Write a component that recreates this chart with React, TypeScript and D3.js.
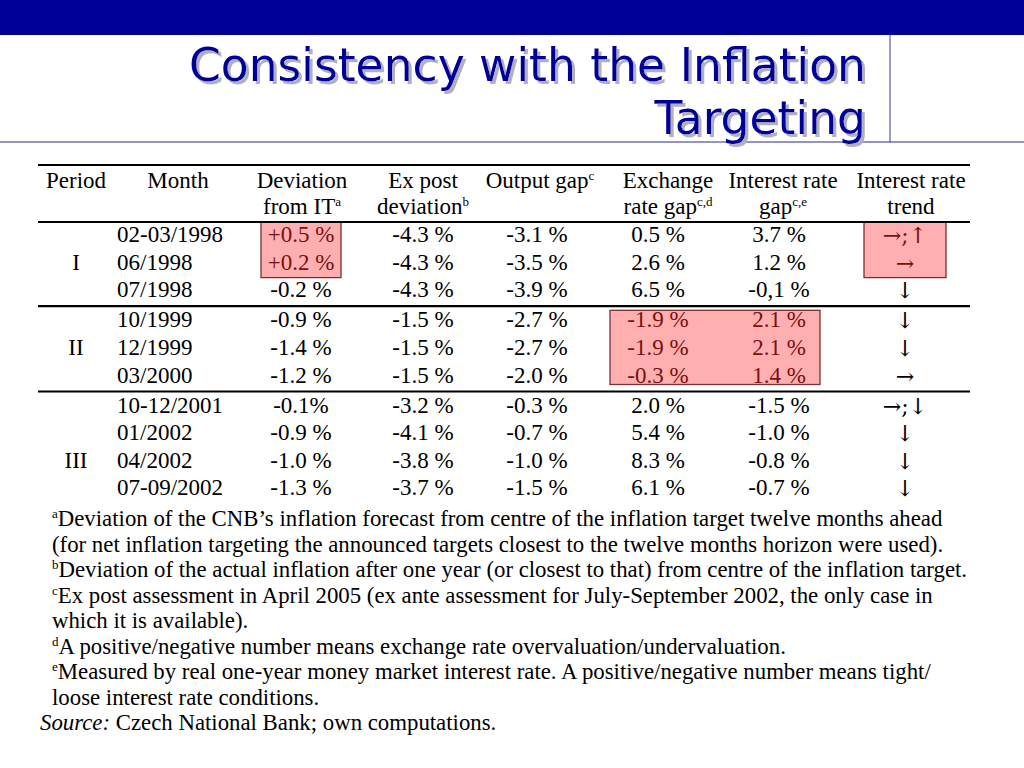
import React from "react";
import * as d3 from "d3";

// ---- data ----
const periods = ["I", "II", "III"];
const periodSizes = [3, 3, 4];
const months = ["02-03/1998", "06/1998", "07/1998", "10/1999", "12/1999", "03/2000", "10-12/2001", "01/2002", "04/2002", "07-09/2002"];
const deviationIT = ["+0.5 %", "+0.2 %", "-0.2 %", "-0.9 %", "-1.4 %", "-1.2 %", "-0.1%", "-0.9 %", "-1.0 %", "-1.3 %"];
const expostDeviation = ["-4.3 %", "-4.3 %", "-4.3 %", "-1.5 %", "-1.5 %", "-1.5 %", "-3.2 %", "-4.1 %", "-3.8 %", "-3.7 %"];
const outputGap = ["-3.1 %", "-3.5 %", "-3.9 %", "-2.7 %", "-2.7 %", "-2.0 %", "-0.3 %", "-0.7 %", "-1.0 %", "-1.5 %"];
const exchangeGap = ["0.5 %", "2.6 %", "6.5 %", "-1.9 %", "-1.9 %", "-0.3 %", "2.0 %", "5.4 %", "8.3 %", "6.1 %"];
const interestGap = ["3.7 %", "1.2 %", "-0,1 %", "2.1 %", "2.1 %", "1.4 %", "-1.5 %", "-1.0 %", "-0.8 %", "-0.7 %"];
const trend = ["\u2192;\u2191", "\u2192", "\u2193", "\u2193", "\u2193", "\u2192", "\u2192;\u2193", "\u2193", "\u2193", "\u2193"];

const headers: { l1: string; l2: string; sup1?: string; sup2?: string }[] = [
  { l1: "Period", l2: "" },
  { l1: "Month", l2: "" },
  { l1: "Deviation", l2: "from IT", sup2: "a" },
  { l1: "Ex post", l2: "deviation", sup2: "b" },
  { l1: "Output gap", l2: "", sup1: "c" },
  { l1: "Exchange", l2: "rate gap", sup2: "c,d" },
  { l1: "Interest rate", l2: "gap", sup2: "c,e" },
  { l1: "Interest rate", l2: "trend" },
];

// highlighted blocks: [firstRow, lastRow, firstCol, lastCol] (col index in table)
const highlights: [number, number, number, number][] = [
  [0, 1, 2, 2],
  [0, 1, 7, 7],
  [3, 5, 5, 6],
];

const footnotes: { sup?: string; text: string }[] = [
  { sup: "a", text: "Deviation of the CNB\u2019s inflation forecast from centre of the inflation target twelve months ahead" },
  { text: "(for net inflation targeting the announced targets closest to the twelve months horizon were used)." },
  { sup: "b", text: "Deviation of the actual inflation after one year (or closest to that) from centre of the inflation target." },
  { sup: "c", text: "Ex post assessment in April 2005 (ex ante assessment for July-September 2002, the only case in" },
  { text: "which it is available)." },
  { sup: "d", text: "A positive/negative number means exchange rate overvaluation/undervaluation." },
  { sup: "e", text: "Measured by real one-year money market interest rate. A positive/negative number means tight/" },
  { text: "loose interest rate conditions." },
];

const NAVY = "#000099";
const PINK = "#ffafaf";
const DARKRED = "#7a1010";
const SERIF = "'Liberation Serif', 'Times New Roman', serif";
const ARROWFONT = "'DejaVu Serif', 'DejaVu Sans', serif";

export default function App() {
  const W = 1024, H = 768;
  const fs = 23;

  // column layout
  const colX = d3.scaleOrdinal<number, number>().domain(d3.range(8)).range([76, 117, 301, 423, 537, 658, 779, 905]);
  const headX = [76, 178, 302, 423, 540, 668, 783, 911];

  // rows
  const groupOf: number[] = [];
  periodSizes.forEach((n, g) => { for (let k = 0; k < n; k++) groupOf.push(g); });
  const rowIdx = d3.scaleLinear().domain([0, 9]).range([242, 242 + 9 * 27.6]);
  const rowY = (i: number) => rowIdx(i) + groupOf[i] * 2.5;
  const groupStart = periodSizes.map((_, g) => d3.sum(periodSizes.slice(0, g)));
  const groupEnd = periodSizes.map((n, g) => groupStart[g] + n - 1);

  const cols = [null, months, deviationIT, expostDeviation, outputGap, exchangeGap, interestGap, trend];

  const isHi = (r: number, c: number) => highlights.some(([r0, r1, c0, c1]) => r >= r0 && r <= r1 && c >= c0 && c <= c1);

  const boxPad = [[-20, 8], [-20, 8], [-17, 2]];
  const boxBounds = (h: [number, number, number, number], i: number) => {
    const [r0, r1, c0, c1] = h;
    const top = rowY(r0) + boxPad[i][0];
    const bottom = rowY(r1) + boxPad[i][1];
    const halfW: Record<number, number> = { 2: 40, 5: 48, 6: 48, 7: 41 };
    const left = colX(c0) - halfW[c0];
    const right = colX(c1) + halfW[c1] - (c1 === 6 ? 7 : 0);
    return { left, right, top, bottom };
  };

  const rules = [165, 222, rowY(groupEnd[0]) + 9, rowY(groupEnd[1]) + 9];

  const fnY = d3.scaleLinear().domain([0, 8]).range([526, 730]);

  return (
    <svg width={W} height={H} style={{ position: "absolute", left: 0, top: 0, background: "#fff" }}>
      <defs>
        <linearGradient id="lg" x1="0" x2="1" y1="0" y2="0">
          <stop offset="0" stopColor="#6a6aa8" />
          <stop offset="1" stopColor="#8888bb" />
        </linearGradient>
        <filter id="shadow" x="-5%" y="-20%" width="110%" height="140%">
          <feDropShadow dx={3} dy={3} stdDeviation={0.6} floodColor="#b0b0c0" floodOpacity={1} />
        </filter>
      </defs>
      {/* header bar */}
      <rect x={0} y={0} width={W} height={35} fill={NAVY} />
      <line x1={890} x2={890} y1={35} y2={142} stroke="#3a3aa0" strokeWidth={1} />
      <line x1={0} x2={W} y1={142} y2={142} stroke="#2a2a90" strokeWidth={1.2} />
      <line x1={0} x2={W} y1={151} y2={151} stroke="url(#lg)" strokeWidth={2.5} />

      {/* title */}
      <g fontFamily="'DejaVu Sans', sans-serif" fontSize={45.6} textAnchor="end" fill={NAVY} filter="url(#shadow)">
        <text x={866} y={81}>Consistency with the Inflation</text>
        <text x={866} y={134}>Targeting</text>
      </g>

      {/* highlight boxes */}
      {highlights.map((h, i) => {
        const b = boxBounds(h, i);
        return <rect key={i} x={b.left} y={b.top} width={b.right - b.left} height={b.bottom - b.top} fill={PINK} stroke="#7a3030" strokeWidth={1.3} />;
      })}

      {/* rules */}
      {rules.map((y, i) => (
        <line key={i} x1={38} x2={970} y1={y} y2={y} stroke="#000" strokeWidth={2.2} />
      ))}

      <g fontFamily={SERIF} fontSize={fs} fill="#000">
        {/* headers */}
        {headers.map((h, i) => (
          <g key={i} textAnchor="middle">
            <text x={headX[i]} y={188}>
              {h.l1}
              {h.sup1 && <tspan dy={-8} fontSize={13}>{h.sup1}</tspan>}
            </text>
            {h.l2 && (
              <text x={headX[i]} y={214}>
                {h.l2}
                {h.sup2 && <tspan dy={-8} fontSize={13}>{h.sup2}</tspan>}
              </text>
            )}
          </g>
        ))}

        {/* period labels */}
        {periods.map((p, g) => (
          <text key={p} x={colX(0)} y={rowY(groupStart[g] + Math.floor(periodSizes[g] / 2))} textAnchor="middle">{p}</text>
        ))}

        {/* cells */}
        {months.map((_, r) => (
          <g key={r}>
            {cols.map((arr, c) => {
              if (!arr) return null;
              const hi = isHi(r, c);
              const isTrend = c === 7;
              return (
                <text
                  key={c}
                  x={colX(c)}
                  y={rowY(r) + (isTrend ? 1 : 0)}
                  textAnchor={c === 1 ? "start" : "middle"}
                  fill={hi ? DARKRED : "#000"}
                  fontFamily={isTrend ? ARROWFONT : SERIF}
                  fontSize={isTrend ? 22 : fs}
                >
                  {arr[r]}
                </text>
              );
            })}
          </g>
        ))}

        {/* footnotes */}
        {footnotes.map((f, i) => (
          <text key={i} x={52} y={fnY(i)} fontSize={22.8}>
            {f.sup && <tspan fontSize={13} dy={-8}>{f.sup}</tspan>}
            {f.sup ? <tspan dy={8}>{f.text}</tspan> : f.text}
          </text>
        ))}
        <text x={40} y={fnY(8)} fontSize={22.8}>
          <tspan fontStyle="italic">Source:</tspan> Czech National Bank; own computations.
        </text>
      </g>
    </svg>
  );
}
